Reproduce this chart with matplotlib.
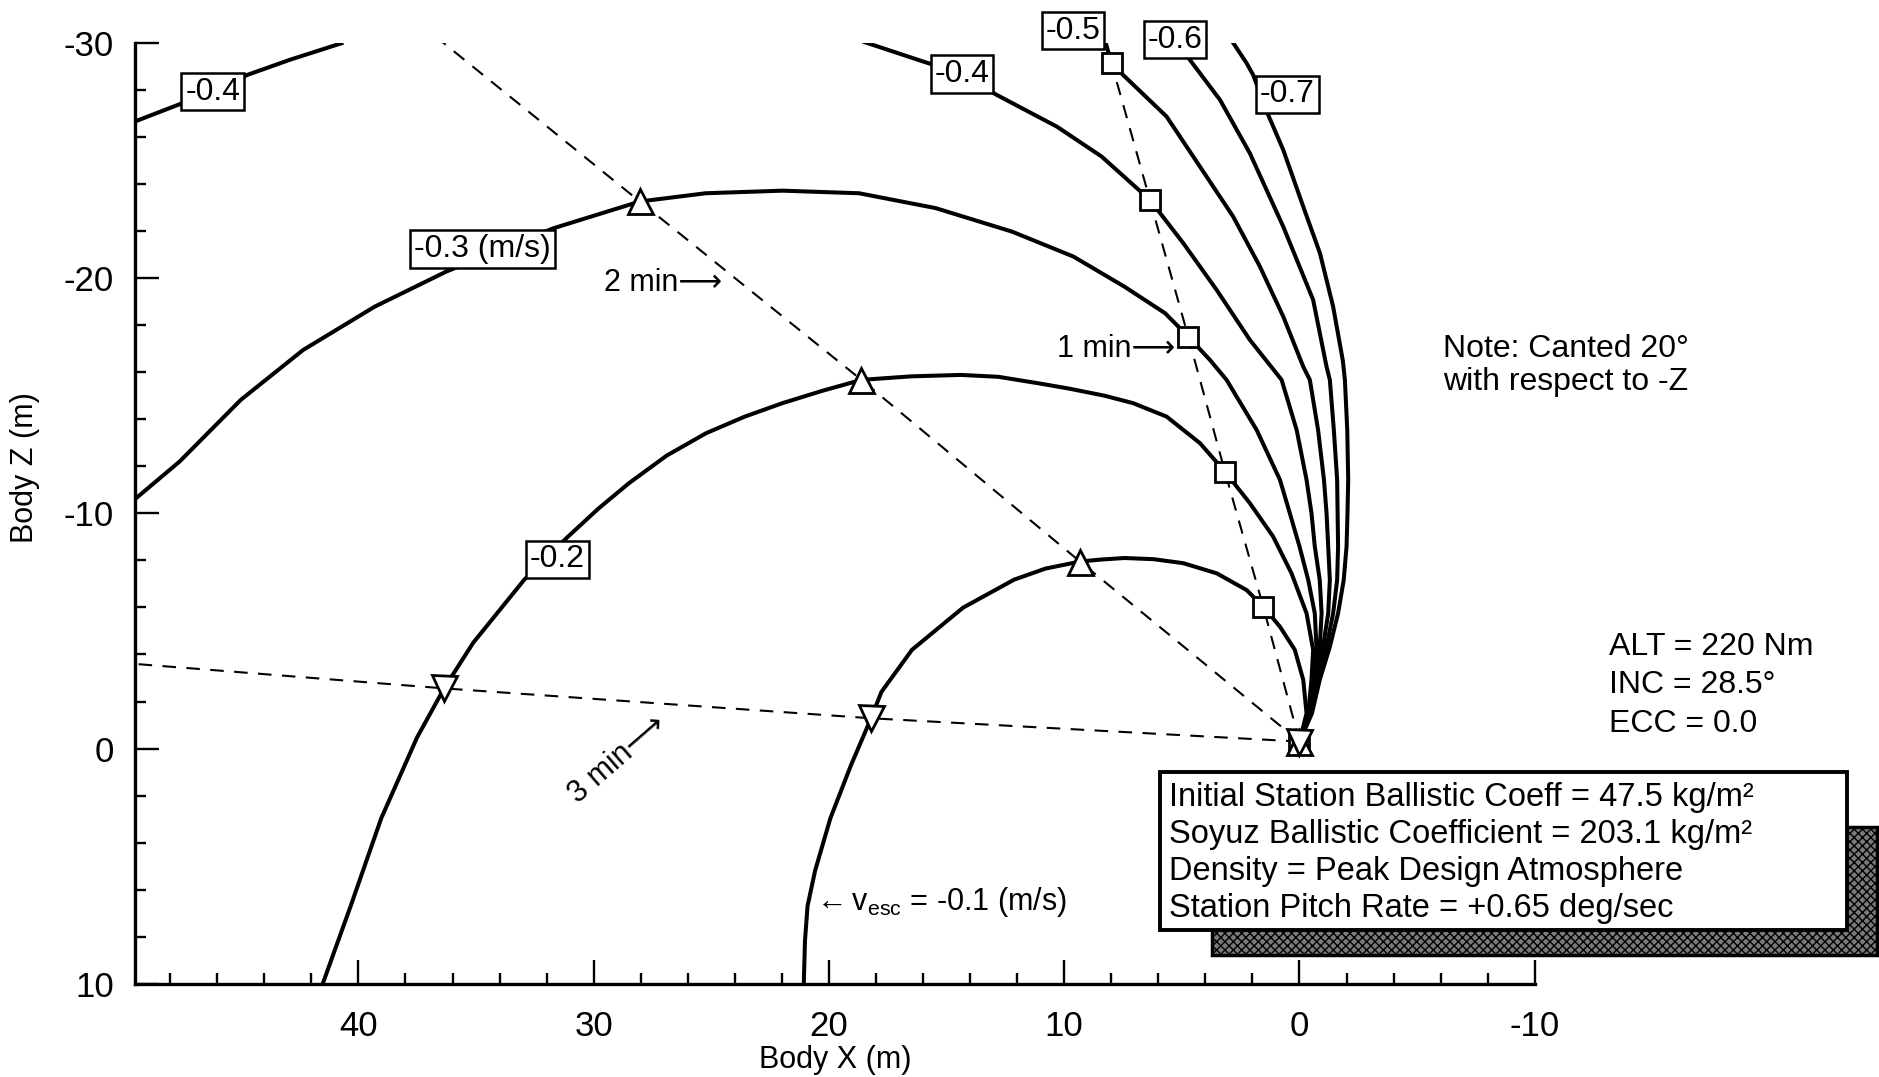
import numpy as np
import matplotlib
matplotlib.use('Agg')
import matplotlib.pyplot as plt
from matplotlib.patches import Rectangle
from matplotlib.ticker import FixedLocator

plt.rcParams['font.family'] = ['Liberation Sans', 'DejaVu Sans']
plt.rcParams['axes.unicode_minus'] = False
plt.rcParams['mathtext.fontset'] = 'custom'
plt.rcParams['mathtext.rm'] = 'Liberation Sans'
plt.rcParams['mathtext.it'] = 'Liberation Sans:italic'
plt.rcParams['mathtext.fallback'] = 'stixsans'

# Soyuz escape trajectories, body X / body Z (m), one per escape velocity
v01_x = [0, -0.3, -0.16, 0.2, 0.83, 1.54, 2.25, 3.52, 4.94, 6.2, 7.44, 8.49, 9.33, 10.8, 12.13,
         14.3, 16.47, 17.77, 18.21, 19.07, 19.94, 20.59, 20.91, 21.02, 21.07]
v01_z = [-0.3, -1.5, -2.92, -4.2, -5.18, -6.03, -6.74, -7.45, -7.88, -8.05, -8.1, -8.03, -7.95, -7.65, -7.18,
         -5.99, -4.2, -2.41, -1.29, 0.72, 2.96, 5.19, 6.69, 8.17, 10.0]

v02_x = [0, -0.37, -0.51, -0.58, -0.3, 0.34, 1.12, 2.11, 3.17, 4.23, 5.65, 7.07, 8.3, 9.8, 11.13, 12.8,
         14.39, 16.5, 18.62, 20.3, 21.98, 23.6, 25.23, 26.9, 28.5, 29.8, 31.09, 32.95, 35.12, 36.36,
         37.51, 39.03, 40.33, 41.52]
v02_z = [-0.3, -1.5, -2.92, -4.2, -5.75, -7.45, -9.01, -10.43, -11.77, -12.98, -14.11, -14.68, -15.0, -15.3,
         -15.53, -15.8, -15.88, -15.82, -15.67, -15.2, -14.68, -14.1, -13.4, -12.45, -11.28, -10.2, -9.01,
         -7.18, -4.5, -2.56, -0.47, 2.96, 6.69, 10.0]

v03_x = [0, -0.41, -0.58, -0.72, -0.65, -0.37, 0.0, 0.41, 0.83, 1.82, 3.1, 3.81, 4.73, 5.71, 7.44, 9.61,
         12.22, 15.47, 18.72, 21.98, 25.24, 28.04, 31.72, 34.0, 36.27, 39.31, 42.35, 45.0, 47.6, 49.5]
v03_z = [-0.3, -1.5, -2.92, -4.33, -5.75, -7.17, -8.59, -10.0, -11.42, -13.54, -15.67, -16.52, -17.51, -18.5,
         -19.63, -20.91, -21.97, -22.97, -23.6, -23.71, -23.6, -23.25, -22.11, -21.2, -20.27, -18.78,
         -16.94, -14.82, -12.2, -10.6]

# -0.4 leaves the top of the plot and comes back in at the left
v04_x = [0, -0.44, -0.65, -0.86, -0.94, -0.86, -0.65, -0.51, -0.3, 0.12, 0.76, 2.11, 3.52, 4.94, 6.36,
         8.41, 10.31, 12.87, 14.35, 16.0, 18.57]
v04_z = [-0.3, -1.5, -2.92, -4.33, -5.75, -7.17, -8.59, -10.0, -11.42, -13.54, -15.67, -17.37, -19.49,
         -21.48, -23.32, -25.16, -26.43, -27.78, -28.67, -29.2, -30.05]
v04b_x = [40.64, 42.92, 44.72, 46.19, 47.66, 49.5]
v04b_z = [-30.0, -29.27, -28.63, -27.92, -27.36, -26.65]

v05_x = [0, -0.47, -0.72, -1.0, -1.22, -1.29, -1.22, -1.15, -1.04, -0.79, -0.44, -0.16, 0.69, 1.68,
         2.82, 4.23, 5.65, 7.5, 7.99, 8.27]
v05_z = [-0.3, -1.5, -2.92, -4.33, -5.75, -7.17, -8.59, -10.0, -11.42, -13.54, -15.67, -16.23, -18.36,
         -20.48, -22.61, -24.73, -26.86, -28.63, -29.13, -30.1]

v06_x = [0, -0.5, -0.79, -1.15, -1.43, -1.6, -1.64, -1.62, -1.6, -1.46, -1.29, -1.15, -0.58, 0.69,
         2.11, 3.38, 4.66, 5.3]
v06_z = [-0.3, -1.5, -2.92, -4.33, -5.75, -7.17, -8.59, -10.0, -11.42, -13.54, -15.67, -16.23, -19.07,
         -22.18, -25.3, -27.57, -29.27, -30.1]

v07_x = [0, -0.53, -0.86, -1.29, -1.64, -1.88, -2.0, -2.04, -2.07, -2.03, -1.93, -1.84, -1.43, -0.87,
         -0.16, 0.69, 1.33, 1.97, 2.25, 2.89]
v07_z = [-0.3, -1.5, -2.92, -4.33, -5.75, -7.17, -8.59, -10.0, -11.42, -13.54, -15.67, -16.5, -18.78,
         -21.05, -23.03, -25.44, -26.93, -28.63, -29.13, -30.1]

# positions after 1, 2 and 3 minutes
one_min_x = [0, 1.54, 3.17, 4.73, 6.36, 7.99]
one_min_z = [-0.3, -6.03, -11.77, -17.51, -23.32, -29.13]
two_min_x = [0, 9.33, 18.62, 28.04]
two_min_z = [-0.3, -7.95, -15.67, -23.25]
three_min_x = [0, 18.21, 36.36]
three_min_z = [-0.3, -1.29, -2.56]
# where the time lines run off the plot
two_min_end = (36.46, -30.05)
three_min_end = (49.5, -3.6)

# curve labels
label_text = ['-0.4', '-0.3 (m/s)', '-0.4', '-0.5', '-0.6', '-0.7', '-0.2']
label_x = [46.19, 34.72, 14.35, 9.63, 5.3, 0.51, 31.54]
label_z = [-27.92, -21.24, -28.67, -30.51, -30.13, -27.8, -8.04]

fig = plt.figure(figsize=(18.79, 10.77), dpi=100)
ax = fig.add_axes([0.0718, 0.0864, 0.745, 0.874])

curves = [(v01_x, v01_z), (v02_x, v02_z), (v03_x, v03_z), (v04_x, v04_z), (v04b_x, v04b_z),
          (v05_x, v05_z), (v06_x, v06_z), (v07_x, v07_z)]
for cx, cz in curves:
    ax.plot(cx, cz, color='black', lw=2.9, solid_joinstyle='round', solid_capstyle='butt', zorder=2)

# dashed time lines
dash = (0, (6.5, 5))
ax.plot(one_min_x, one_min_z, color='black', lw=1.5, linestyle=dash, zorder=1)
ax.plot(two_min_x + [two_min_end[0]], two_min_z + [two_min_end[1]], color='black', lw=1.5,
        linestyle=dash, zorder=1)
ax.plot(three_min_x + [three_min_end[0]], three_min_z + [three_min_end[1]], color='black', lw=1.5,
        linestyle=dash, zorder=1)

# markers
ax.plot(one_min_x, one_min_z, 's', ms=15, mfc='white', mec='black', mew=2, zorder=4, clip_on=False)
ax.plot(two_min_x, two_min_z, '^', ms=18, mfc='white', mec='black', mew=2, zorder=4)
ax.plot(three_min_x, three_min_z, 'v', ms=18, mfc='white', mec='black', mew=2, zorder=4)

# boxed velocity labels
for t, lx, lz in zip(label_text, label_x, label_z):
    ax.text(lx, lz, t, fontsize=23, ha='center', va='center', zorder=5, clip_on=False,
            bbox=dict(boxstyle='square,pad=0.12', facecolor='white', edgecolor='black', lw=1.8))

# annotations
ax.text(29.57, -19.79, '2 min\u27f6', fontsize=22, ha='left', va='center')
ax.text(10.3, -16.99, '1 min\u27f6', fontsize=22, ha='left', va='center')
ax.text(29.0, 0.45, '3 min\u27f6', fontsize=22, ha='center', va='center', rotation=41,
        rotation_mode='anchor')
ax.text(20.75, 6.85, '$\\leftarrow$v$_{\\mathrm{esc}}$ = -0.1 (m/s)', fontsize=22, ha='left',
        va='baseline')
ax.text(-6.1, -17.6, 'Note: Canted 20\u00b0\nwith respect to -Z', fontsize=23, ha='left', va='top',
        linespacing=1.1, clip_on=False)

fig.text(0.8563, 0.4135, 'ALT = 220 Nm\nINC = 28.5\u00b0\nECC = 0.0', fontsize=23, ha='left', va='top',
         linespacing=1.38)

# parameter box with hatched drop shadow
fig.add_artist(Rectangle((0.645, 0.1133), 0.354, 0.1188, transform=fig.transFigure, facecolor='#7a7a7a',
                         edgecolor='black', hatch='xxxx', lw=2.5, zorder=5))
fig.add_artist(Rectangle((0.6173, 0.1365), 0.3657, 0.1467, transform=fig.transFigure, facecolor='white',
                         edgecolor='black', lw=2.8, zorder=6))
fig.text(0.6224, 0.2735,
         'Initial Station Ballistic Coeff = 47.5 kg/m\u00b2\n'
         'Soyuz Ballistic Coefficient = 203.1 kg/m\u00b2\n'
         'Density = Peak Design Atmosphere\n'
         'Station Pitch Rate = +0.65 deg/sec',
         fontsize=23.5, ha='left', va='top', linespacing=1.24, zorder=7)

# axes formatting
ax.set_xlim(49.5, -10)
ax.set_ylim(10, -30)
for side in ['top', 'right']:
    ax.spines[side].set_visible(False)
for side in ['left', 'bottom']:
    ax.spines[side].set_linewidth(2.4)

ax.set_xticks([40, 30, 20, 10, 0, -10])
ax.set_xticklabels(['40', '30', '20', '10', '0', '-10'])
ax.set_yticks([-30, -20, -10, 0, 10])
ax.set_yticklabels(['-30', '-20', '-10', '0', '10'])
ax.xaxis.set_minor_locator(FixedLocator(np.arange(48, -10, -2)))
ax.yaxis.set_minor_locator(FixedLocator(np.arange(-28, 10, 2)))
ax.tick_params(which='major', direction='in', length=17, width=1.7, labelsize=25)
ax.tick_params(which='minor', direction='in', length=8, width=1.7)
ax.tick_params(axis='x', which='major', pad=19)
ax.tick_params(axis='y', which='major', pad=15)

ax.set_xlabel('Body X (m)', fontsize=22)
ax.xaxis.set_label_coords(0.5, -0.065)
ax.set_ylabel('Body Z (m)', fontsize=22)
ax.yaxis.set_label_coords(-0.068, 0.549)

fig.savefig('out.png', dpi=100)
